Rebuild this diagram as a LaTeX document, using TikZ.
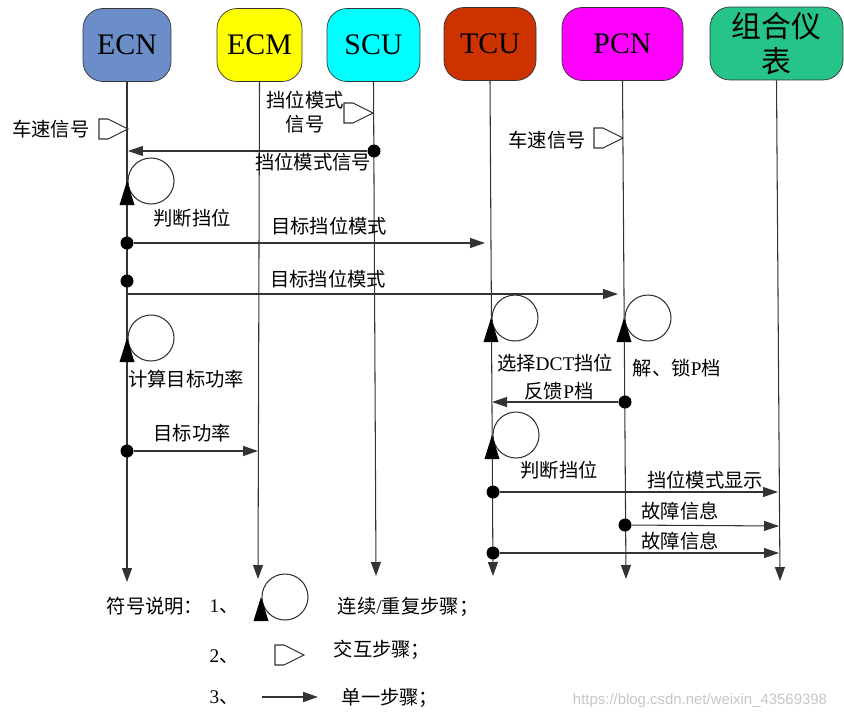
\documentclass[tikz,border=0pt]{standalone}
\usepackage{fontspec}
\setmainfont{Liberation Serif}
\newfontfamily\cjk{Noto Sans CJK SC}
\newfontfamily\wmfont{Liberation Sans}
\usepackage{xcolor}
\usetikzlibrary{arrows.meta,positioning}
\definecolor{ecnblue}{RGB}{108,142,200}
\definecolor{ecmyellow}{RGB}{255,255,0}
\definecolor{scucyan}{RGB}{0,255,255}
\definecolor{tcured}{RGB}{204,51,0}
\definecolor{pcnpink}{RGB}{255,0,255}
\definecolor{icgreen}{RGB}{38,196,137}

\tikzset{
  pics/loopstep/.style={code={
    \draw[black!80,line width=0.6pt] (24,0) circle[radius=23];
    \fill (0,0) -- (-7.5,24) -- (7.5,24) -- cycle;}},
  pics/flagstep/.style={code={
    \draw[black!80,line width=0.6pt,fill=white] (0,0) -- (-20,-10) -- (-29,-10) -- (-29,10) -- (-20,10) -- cycle;}}
}

\begin{document}
\begin{tikzpicture}[x=0.02cm,y=-0.02cm,
  unit/.style={draw=black!80,rounded corners=0.4cm,minimum height=1.46cm,inner sep=0pt,align=center,font=\fontsize{17}{19}\selectfont},
  life/.style={draw=black!80,line width=0.6pt,-{Triangle[length=2.8mm,width=2mm]}},
  msg/.style={draw=black!80,line width=0.6pt,-{Triangle[length=3mm,width=2mm]}},
  dot/.style={circle,fill=black,inner sep=0pt,minimum size=0.26cm},
  lbl/.style={font=\cjk\fontsize{11}{14}\selectfont,inner sep=0pt,align=center}]
\useasboundingbox (0,0) rectangle (844,720);

% units on top
\node[unit,fill=ecnblue,minimum width=1.76cm] (ECN) at (127,45) {ECN};
\node[unit,fill=ecmyellow,minimum width=1.70cm] (ECM) at (259.5,45) {ECM};
\node[unit,fill=scucyan,minimum width=1.86cm] (SCU) at (373.5,45) {SCU};
\node[unit,fill=tcured,minimum width=1.84cm] (TCU) at (490,44) {TCU};
\node[unit,fill=pcnpink,minimum width=2.42cm] (PCN) at (622.5,44) {PCN};
\node[unit,fill=icgreen,minimum width=2.66cm,font=\cjk\fontsize{17}{20}\selectfont] (IC) at (776.5,43.5) {组合仪\\表};

% lifelines
\coordinate (ECN-end) at (127,582);
\coordinate (ECM-end) at (258,579);
\coordinate (SCU-end) at (376,576);
\coordinate (TCU-end) at (493,576);
\coordinate (PCN-end) at (626,579);
\coordinate (IC-end) at (780,581);
\foreach \u in {ECN,ECM,SCU,TCU,PCN,IC}
  \draw[life] (\u.south) -- (\u-end);

% interaction steps
\pic at (128,129) {flagstep};
\node[lbl] (ecn-v) at (51,129) {车速信号};
\pic at (373,113) {flagstep};
\node[lbl] (scu-g) at (305,112) {挡位模式\\信号};
\pic at (623,138) {flagstep};
\node[lbl] (pcn-v) at (547,140) {车速信号};

% SCU -> ECN
\node[dot] (d1) at (374,151) {};
\coordinate (m1) at (128,151);
\draw[msg] (d1) -- (m1);
\node[lbl] (t1) at (313,162) {挡位模式信号};

% ECN loop 1
\pic at (127,181) {loopstep};
\node[lbl] (t2) at (192,218) {判断挡位};

% ECN -> TCU
\node[dot] (d2) at (127,243) {};
\coordinate (m2) at (485,243);
\draw[msg] (d2) -- (m2);
\node[lbl] (t3) at (329,226) {目标挡位模式};

% ECN -> PCN
\node[dot] (d3) at (127,281) {};
\coordinate (m3a) at (127,294);
\coordinate (m3) at (618,294);
\draw[msg] (m3a) -- (m3);
\node[lbl] (t4) at (328,279) {目标挡位模式};

% ECN loop 2
\pic at (127,338) {loopstep};
\node[lbl] (t5) at (186,379) {计算目标功率};

% ECN -> ECM
\node[dot] (d4) at (127,451) {};
\coordinate (m4) at (258,451);
\draw[msg] (d4) -- (m4);
\node[lbl] (t6) at (192,433) {目标功率};

% TCU and PCN loops
\pic at (491,318) {loopstep};
\node[lbl] (t7) at (555,363) {选择{\rmfamily DCT}挡位};
\pic at (624,318) {loopstep};
\node[lbl] (t8) at (677,368) {解、锁{\rmfamily P}档};

% PCN -> TCU
\node[dot] (d5) at (625,402) {};
\coordinate (m5) at (492,402);
\draw[msg] (d5) -- (m5);
\node[lbl] (t9) at (559,391) {反馈{\rmfamily P}档};

% TCU loop 2
\pic at (492,435) {loopstep};
\node[lbl] (t10) at (559,470) {判断挡位};

% to instrument cluster
\node[dot] (d6) at (493,492) {};
\coordinate (m6) at (778,492);
\draw[msg] (d6) -- (m6);
\node[lbl] (t11) at (705,480) {挡位模式显示};
\node[dot] (d7) at (625,525) {};
\coordinate (m7) at (779,526);
\draw[msg] (d7) -- (m7);
\node[lbl] (t12) at (680,511) {故障信息};
\node[dot] (d8) at (493,553) {};
\coordinate (m8) at (779,553);
\draw[msg] (d8) -- (m8);
\node[lbl] (t13) at (680,541) {故障信息};

% legend
\node[lbl] (leg) at (155,606) {符号说明：};
\node[lbl] (leg1) at (224,607) {{\rmfamily 1}、};
\pic at (261,597) {loopstep};
\node[lbl] (leg1t) at (408,607) {连续{\rmfamily /}重复步骤；};
\node[lbl] (leg2) at (224,657) {{\rmfamily 2}、};
\pic at (304,655) {flagstep};
\node[lbl] (leg2t) at (382,650) {交互步骤；};
\node[lbl] (leg3) at (224,698) {{\rmfamily 3}、};
\coordinate (la) at (262,697);
\coordinate (lb) at (318,697);
\draw[msg,line width=1pt] (la) -- (lb);
\node[lbl] (leg3t) at (390,698) {单一步骤；};

% watermark
\node[font=\wmfont\fontsize{8.5}{10}\selectfont,text=gray!45] (wm) at (700,701) {https://blog.csdn.net/weixin\_43569398};
\end{tikzpicture}
\end{document}
